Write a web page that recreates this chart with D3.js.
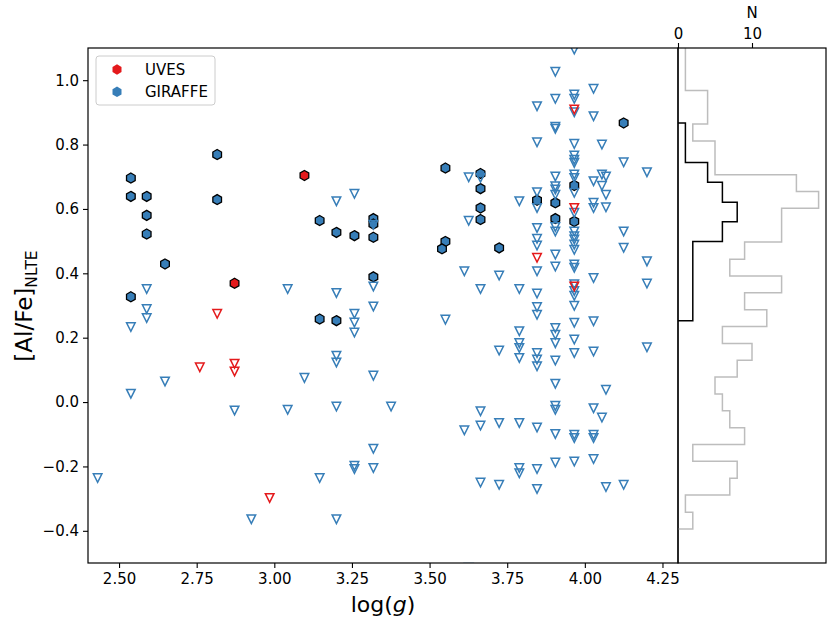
<!DOCTYPE html>
<html>
<head>
<meta charset="utf-8">
<script src="https://cdn.jsdelivr.net/npm/d3@7"></script>
<style>
  body { margin: 0; background: #fff; }
  svg { font-family: "DejaVu Sans", sans-serif; }
</style>
</head>
<body>
<div id="chart"></div>
<script>
// GIRAFFE detections: [log g, [Al/Fe]]
const giraffeDetections = [
  [2.538, 0.696], [2.538, 0.639], [2.538, 0.327],
  [2.589, 0.639], [2.589, 0.580], [2.589, 0.522],
  [2.648, 0.429],
  [2.816, 0.769], [2.816, 0.629],
  [3.146, 0.564], [3.146, 0.258],
  [3.200, 0.527], [3.200, 0.253],
  [3.258, 0.517],
  [3.319, 0.570], [3.319, 0.553], [3.319, 0.512], [3.319, 0.389],
  [3.551, 0.727], [3.551, 0.499], [3.540, 0.476],
  [3.664, 0.710], [3.664, 0.663], [3.664, 0.603], [3.664, 0.567],
  [3.724, 0.479],
  [3.846, 0.627],
  [3.905, 0.619], [3.905, 0.570],
  [3.966, 0.673], [3.966, 0.561],
  [4.125, 0.867]
];

const uvesDetections = [[3.097, 0.704], [2.872, 0.369]];

const uvesLimits = [
  [2.816, 0.274], [2.760, 0.108], [2.872, 0.119], [2.872, 0.095], [2.985, -0.298],
  [3.846, 0.448], [3.966, 0.909], [3.966, 0.603], [3.966, 0.359]
];

const giraffeLimits = [
  [2.589, 0.351], [2.589, 0.289], [2.589, 0.261], [2.538, 0.233], [2.648, 0.064],
  [2.538, 0.026], [2.431, -0.236], [2.872, -0.026], [2.926, -0.364],
  [3.043, 0.351], [3.043, -0.024], [3.097, 0.075], [3.146, -0.236],
  [3.200, 0.624], [3.200, 0.339], [3.200, 0.144], [3.200, 0.123], [3.200, -0.014], [3.200, -0.364],
  [3.258, 0.647], [3.258, 0.274], [3.258, 0.247], [3.258, 0.216], [3.258, -0.198], [3.258, -0.208],
  [3.319, 0.551], [3.319, 0.359], [3.319, 0.297], [3.319, 0.082], [3.319, -0.145], [3.319, -0.205],
  [3.376, -0.014],
  [3.551, 0.256],
  [3.612, 0.406], [3.612, -0.088],
  [3.626, 0.698], [3.626, 0.563], [3.626, -0.515],
  [3.664, 0.697], [3.664, 0.351], [3.664, -0.029], [3.664, -0.073], [3.664, -0.250],
  [3.724, 0.393], [3.724, 0.160], [3.724, -0.065], [3.724, -0.257],
  [3.789, 0.624], [3.789, 0.351], [3.789, 0.220], [3.789, 0.183], [3.789, 0.168], [3.789, 0.137],
  [3.789, -0.065], [3.789, -0.205], [3.789, -0.221],
  [3.846, 0.919], [3.846, 0.807], [3.846, 0.652], [3.846, 0.603], [3.846, 0.541], [3.846, 0.507],
  [3.846, 0.486], [3.846, 0.406], [3.846, 0.337], [3.846, 0.295], [3.846, 0.271], [3.846, 0.152],
  [3.846, 0.132], [3.846, 0.111], [3.846, -0.079], [3.846, -0.208], [3.846, -0.270],
  [3.905, 1.026], [3.905, 0.942], [3.905, 0.855], [3.905, 0.849], [3.905, 0.701], [3.905, 0.670],
  [3.905, 0.660], [3.905, 0.644], [3.905, 0.544], [3.905, 0.530], [3.905, 0.458], [3.905, 0.421],
  [3.905, 0.230], [3.905, 0.209], [3.905, 0.183], [3.905, 0.129], [3.905, 0.057], [3.905, -0.012],
  [3.905, -0.024], [3.905, -0.099], [3.905, -0.188],
  [3.966, 1.095], [3.966, 0.955], [3.966, 0.942], [3.966, 0.900], [3.966, 0.802], [3.966, 0.766],
  [3.966, 0.753], [3.966, 0.743], [3.966, 0.707], [3.966, 0.696], [3.966, 0.650], [3.966, 0.588],
  [3.966, 0.530], [3.966, 0.515], [3.966, 0.505], [3.966, 0.489], [3.966, 0.473], [3.966, 0.427],
  [3.966, 0.417], [3.966, 0.366], [3.966, 0.345], [3.966, 0.330], [3.966, 0.299], [3.966, 0.246],
  [3.966, 0.194], [3.966, 0.152], [3.966, -0.102], [3.966, -0.112], [3.966, -0.185],
  [4.028, 0.973], [4.028, 0.888], [4.028, 0.686], [4.028, 0.619], [4.028, 0.603], [4.028, 0.385],
  [4.028, 0.251], [4.028, 0.157], [4.028, -0.019], [4.028, -0.102], [4.028, -0.112], [4.028, -0.177],
  [4.055, 0.800], [4.055, 0.707], [4.055, 0.672], [4.055, -0.048],
  [4.068, 0.701], [4.068, 0.644], [4.068, 0.605], [4.068, 0.038], [4.068, -0.264],
  [4.125, 0.745], [4.125, 0.530], [4.125, 0.479], [4.125, -0.257],
  [4.200, 0.714], [4.200, 0.437], [4.200, 0.368], [4.200, 0.170]
];

// histograms (horizontal): all stars in gray, detections in black
const grayEdges = [-0.394, -0.342, -0.289, -0.237, -0.184, -0.132, -0.080, -0.027, 0.025, 0.078,
  0.130, 0.182, 0.235, 0.287, 0.340, 0.392, 0.444, 0.497, 0.549, 0.602,
  0.654, 0.706, 0.759, 0.811, 0.864, 0.916, 0.968, 1.021, 1.073, 1.126];
const grayCounts = [2, 1, 7, 8, 2, 9, 7, 6, 5, 8, 10, 6, 12, 9, 14, 7, 9, 14, 14, 19, 16, 5, 5, 2, 4, 4, 1, 1, 1];
const blackEdges = [0.253, 0.314, 0.376, 0.437, 0.499, 0.560, 0.621, 0.683, 0.744, 0.806, 0.867];
const blackCounts = [2, 2, 2, 2, 6, 8, 6, 4, 1, 1];

const xTicks = [2.50, 2.75, 3.00, 3.25, 3.50, 3.75, 4.00, 4.25];
const yTicks = [-0.4, -0.2, 0.0, 0.2, 0.4, 0.6, 0.8, 1.0];
const nTicks = [0, 10];

const RED = '#e41a1c';
const BLUE = '#377eb8';

const width = 830, height = 626;
const svg = d3.select('#chart').append('svg')
  .attr('width', width)
  .attr('height', height);

const plot = { left: 88, right: 678, top: 48, bottom: 563 };
const hist = { left: 678, right: 826 };

const x = d3.scaleLinear().domain([2.40, 4.30]).range([plot.left, plot.right]);
const y = d3.scaleLinear().domain([-0.5, 1.1]).range([plot.bottom, plot.top]);
const hx = d3.scaleLinear().domain([0, 20]).range([hist.left, hist.right]);

const defs = svg.append('defs');
defs.append('clipPath').attr('id', 'clip-main')
  .append('rect')
  .attr('x', plot.left).attr('y', plot.top)
  .attr('width', plot.right - plot.left).attr('height', plot.bottom - plot.top);
defs.append('clipPath').attr('id', 'clip-hist')
  .append('rect')
  .attr('x', hist.left).attr('y', plot.top)
  .attr('width', hist.right - hist.left).attr('height', plot.bottom - plot.top);

function hexPath(r) {
  const pts = d3.range(6).map(k => {
    const a = (-90 + k * 60) * Math.PI / 180;
    return [r * Math.cos(a), r * Math.sin(a)];
  });
  return 'M' + pts.map(p => p.join(',')).join('L') + 'Z';
}
const triPath = 'M-4.3,-4.3L4.3,-4.3L0,4.3Z';

// scatter
const marks = svg.append('g').attr('clip-path', 'url(#clip-main)');

marks.selectAll('path.gdet')
  .data(giraffeDetections)
  .enter().append('path')
  .attr('class', 'gdet')
  .attr('d', hexPath(5))
  .attr('transform', d => `translate(${x(d[0])},${y(d[1])})`)
  .attr('fill', BLUE)
  .attr('stroke', '#000')
  .attr('stroke-width', 1.3);

marks.selectAll('path.udet')
  .data(uvesDetections)
  .enter().append('path')
  .attr('class', 'udet')
  .attr('d', hexPath(5))
  .attr('transform', d => `translate(${x(d[0])},${y(d[1])})`)
  .attr('fill', RED)
  .attr('stroke', '#000')
  .attr('stroke-width', 1.3);

marks.selectAll('path.glim')
  .data(giraffeLimits)
  .enter().append('path')
  .attr('class', 'glim')
  .attr('d', triPath)
  .attr('transform', d => `translate(${x(d[0])},${y(d[1])})`)
  .attr('fill', 'none')
  .attr('stroke', BLUE)
  .attr('stroke-width', 1.5);

marks.selectAll('path.ulim')
  .data(uvesLimits)
  .enter().append('path')
  .attr('class', 'ulim')
  .attr('d', triPath)
  .attr('transform', d => `translate(${x(d[0])},${y(d[1])})`)
  .attr('fill', 'none')
  .attr('stroke', RED)
  .attr('stroke-width', 1.5);

// main axes
svg.append('g')
  .attr('transform', `translate(0,${plot.bottom})`)
  .call(d3.axisBottom(x).tickValues(xTicks).tickFormat(d3.format('.2f')).tickSize(5).tickPadding(5))
  .call(g => g.select('.domain').remove());

svg.append('g')
  .attr('transform', `translate(${plot.left},0)`)
  .call(d3.axisLeft(y).tickValues(yTicks).tickFormat(d3.format('.1f')).tickSize(5).tickPadding(4))
  .call(g => g.select('.domain').remove());

svg.selectAll('.tick text').attr('font-size', 15).attr('font-family', '"DejaVu Sans", sans-serif').attr('fill', '#000');
svg.selectAll('.tick line').attr('stroke', '#000').attr('stroke-width', 1.1);

svg.append('rect')
  .attr('x', plot.left).attr('y', plot.top)
  .attr('width', plot.right - plot.left).attr('height', plot.bottom - plot.top)
  .attr('fill', 'none').attr('stroke', '#000').attr('stroke-width', 1.2);

// histogram panel
function stepPath(edges, counts) {
  const pts = [[0, edges[0]]];
  counts.forEach((c, i) => {
    pts.push([c, edges[i]]);
    pts.push([c, edges[i + 1]]);
  });
  pts.push([0, edges[edges.length - 1]]);
  return d3.line().x(d => hx(d[0])).y(d => y(d[1]))(pts);
}

const histG = svg.append('g').attr('clip-path', 'url(#clip-hist)');
histG.append('path')
  .attr('d', stepPath(grayEdges, grayCounts))
  .attr('fill', 'none')
  .attr('stroke', '#bdbdbd')
  .attr('stroke-width', 1.5);
histG.append('path')
  .attr('d', stepPath(blackEdges, blackCounts))
  .attr('fill', 'none')
  .attr('stroke', '#000')
  .attr('stroke-width', 1.5);

const topAxis = svg.append('g')
  .attr('transform', `translate(0,${plot.top})`)
  .call(d3.axisTop(hx).tickValues(nTicks).tickSize(5).tickPadding(4))
  .call(g => g.select('.domain').remove());
topAxis.selectAll('.tick text').attr('font-size', 15).attr('font-family', '"DejaVu Sans", sans-serif').attr('fill', '#000');
topAxis.selectAll('.tick line').attr('stroke', '#000').attr('stroke-width', 1.1);

svg.append('rect')
  .attr('x', hist.left).attr('y', plot.top)
  .attr('width', hist.right - hist.left).attr('height', plot.bottom - plot.top)
  .attr('fill', 'none').attr('stroke', '#000').attr('stroke-width', 1.2);

svg.append('text')
  .attr('x', (hist.left + hist.right) / 2)
  .attr('y', 18)
  .attr('text-anchor', 'middle')
  .attr('font-size', 15)
  .text('N');

// axis labels
const xl = svg.append('text')
  .attr('x', (plot.left + plot.right) / 2)
  .attr('y', 612)
  .attr('text-anchor', 'middle')
  .attr('font-size', 22);
xl.append('tspan').text('log(');
xl.append('tspan').attr('font-style', 'italic').text('g');
xl.append('tspan').text(')');

const yl = svg.append('text')
  .attr('transform', 'translate(32,306) rotate(-90)')
  .attr('text-anchor', 'middle')
  .attr('font-size', 23);
yl.append('tspan').text('[Al/Fe]');
yl.append('tspan').attr('font-size', 15.5).attr('dy', 5).text('NLTE');

// legend
const legend = svg.append('g');
legend.append('rect')
  .attr('x', 96).attr('y', 56)
  .attr('width', 119).attr('height', 49)
  .attr('rx', 3)
  .attr('fill', '#fff').attr('fill-opacity', 0.8)
  .attr('stroke', '#cccccc').attr('stroke-width', 1);

const legendItems = [['UVES', RED], ['GIRAFFE', BLUE]];
legendItems.forEach((item, i) => {
  legend.append('path')
    .attr('d', hexPath(5.2))
    .attr('transform', `translate(117,${69.5 + i * 22.3})`)
    .attr('fill', item[1]);
  legend.append('text')
    .attr('x', 145)
    .attr('y', 74.8 + i * 22.3)
    .attr('font-size', 15)
    .text(item[0]);
});
</script>
</body>
</html>
